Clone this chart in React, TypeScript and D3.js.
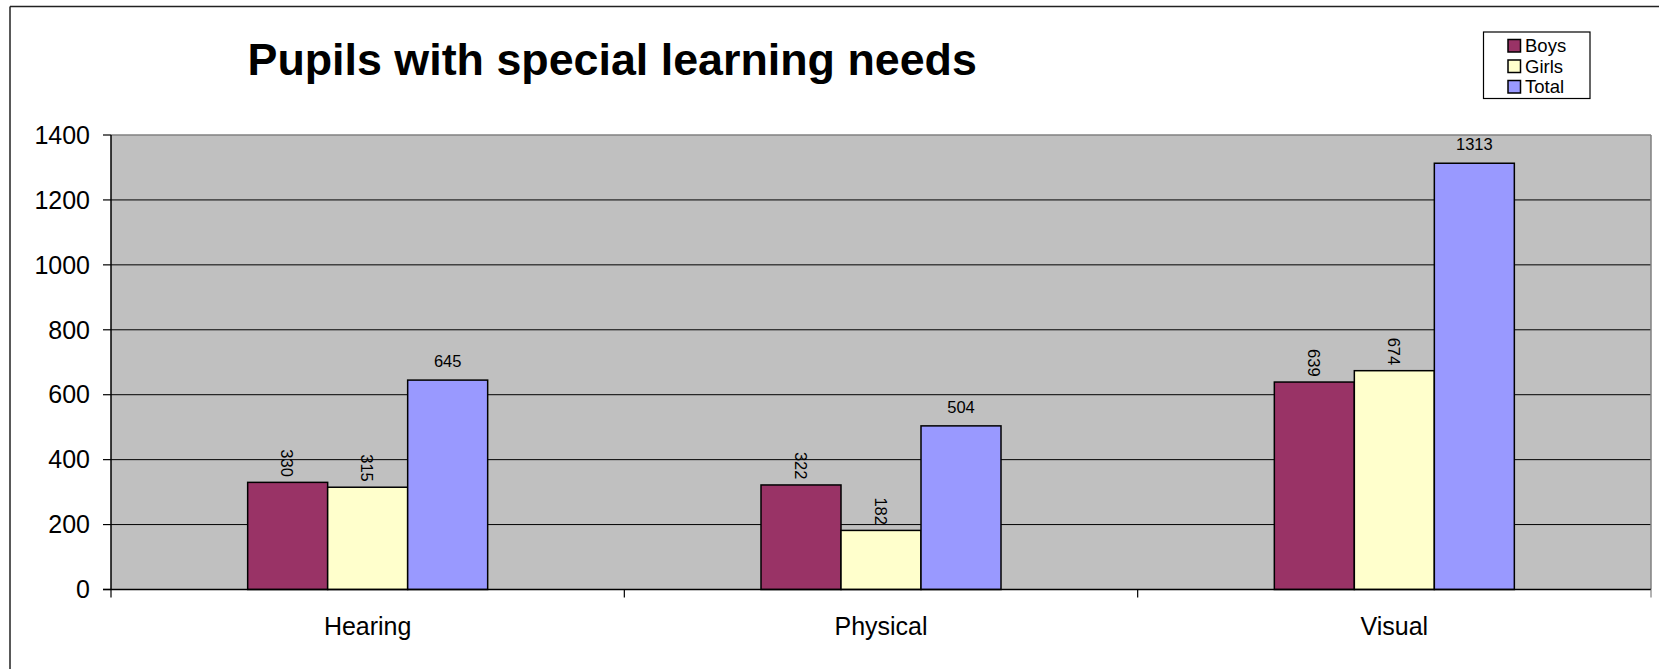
import React from "react";
import * as d3 from "d3";

const categories = ["Hearing", "Physical", "Visual"];
const seriesNames = ["Boys", "Girls", "Total"];
const boys = [330, 322, 639];
const girls = [315, 182, 674];
const total = [645, 504, 1313];
const yTicks = [0, 200, 400, 600, 800, 1000, 1200, 1400];
const colors = ["#993366", "#FFFFCC", "#9999FF"];

const W = 1659;
const H = 669;
const plot = { left: 111, right: 1651, top: 135, bottom: 589.5 };
const FONT = "'Liberation Sans', Arial, sans-serif";

export default function App() {
  const values = [boys, girls, total];
  const x0 = d3.scaleBand<string>().domain(categories).range([plot.left, plot.right]).paddingInner(0).paddingOuter(0);
  const groupW = 240;
  const x1 = d3.scaleBand<string>().domain(seriesNames).range([0, groupW]);
  const y = d3.scaleLinear().domain([0, 1400]).range([plot.bottom, plot.top]);
  const bw = x0.bandwidth();
  const boundaries = [...categories.map((c) => x0(c) as number), plot.right];

  return (
    <svg width={W} height={H} style={{ position: "absolute", left: 0, top: 0, background: "#fff" }} fontFamily={FONT}>
      {/* outer chart border */}
      <line x1={10} y1={6.5} x2={W + 5} y2={6.5} stroke="#222" strokeWidth={1.5} />
      <line x1={10} y1={6.5} x2={10} y2={H + 5} stroke="#222" strokeWidth={1.5} />

      {/* title */}
      <text x={247.5} y={75} fontSize={44.8} fontWeight="bold" fill="#000">Pupils with special learning needs</text>

      {/* plot background */}
      <rect x={plot.left} y={plot.top} width={plot.right - plot.left} height={plot.bottom - plot.top} fill="#C0C0C0" />
      {/* gridlines */}
      {yTicks.filter((t) => t > 0 && t < 1400).map((t) => (
        <line key={t} x1={plot.left} x2={plot.right} y1={y(t)} y2={y(t)} stroke="#000" strokeWidth={1} />
      ))}
      {/* plot border top/right */}
      <line x1={plot.left} x2={plot.right} y1={plot.top} y2={plot.top} stroke="#808080" strokeWidth={1.5} />
      <line x1={plot.right} x2={plot.right} y1={plot.top} y2={plot.bottom} stroke="#808080" strokeWidth={1.5} />

      {/* bars */}
      {categories.map((c, ci) => {
        const gx = (x0(c) as number) + (bw - groupW) / 2;
        return seriesNames.map((s, si) => {
          const v = values[si][ci];
          const bx = gx + (x1(s) as number);
          const by = y(v);
          const cx = bx + x1.bandwidth() / 2;
          return (
            <g key={c + s}>
              <rect x={bx} y={by} width={x1.bandwidth()} height={plot.bottom - by} fill={colors[si]} stroke="#000" strokeWidth={1.5} />
              {si < 2 ? (
                <text
                  transform={`translate(${cx - 2},${by - 5.5}) rotate(90)`}
                  textAnchor="end"
                  dominantBaseline="middle"
                  fontSize={16.5}
                  fill="#000"
                >
                  {v}
                </text>
              ) : (
                <text x={cx} y={by - 13} textAnchor="middle" fontSize={16.5} fill="#000">{v}</text>
              )}
            </g>
          );
        });
      })}

      {/* y axis */}
      <line x1={plot.left} x2={plot.left} y1={plot.top} y2={plot.bottom} stroke="#000" strokeWidth={1.5} />
      {yTicks.map((t) => (
        <g key={t}>
          <line x1={plot.left - 8} x2={plot.left} y1={y(t)} y2={y(t)} stroke="#000" strokeWidth={1.2} />
          <text x={90} y={y(t)} dy="0.35em" textAnchor="end" fontSize={25} fill="#000">{t}</text>
        </g>
      ))}

      {/* x axis */}
      <line x1={plot.left - 8} x2={plot.right} y1={plot.bottom} y2={plot.bottom} stroke="#000" strokeWidth={1.5} />
      {boundaries.map((b, i) => (
        <line key={i} x1={b} x2={b} y1={plot.bottom} y2={plot.bottom + 8} stroke={i === boundaries.length - 1 ? "#808080" : "#000"} strokeWidth={1.2} />
      ))}
      {categories.map((c) => (
        <text key={c} x={(x0(c) as number) + bw / 2} y={635} textAnchor="middle" fontSize={25} fill="#000">{c}</text>
      ))}

      {/* legend */}
      <rect x={1483.5} y={32} width={106.5} height={66.5} fill="#fff" stroke="#000" strokeWidth={1.2} />
      {seriesNames.map((s, i) => (
        <g key={s}>
          <rect x={1508} y={39.5 + i * 20.5} width={12.5} height={12.5} fill={colors[i]} stroke="#000" strokeWidth={1.5} />
          <text x={1525} y={46 + i * 20.5} dy="0.35em" fontSize={18.5} fill="#000">{s}</text>
        </g>
      ))}
    </svg>
  );
}
